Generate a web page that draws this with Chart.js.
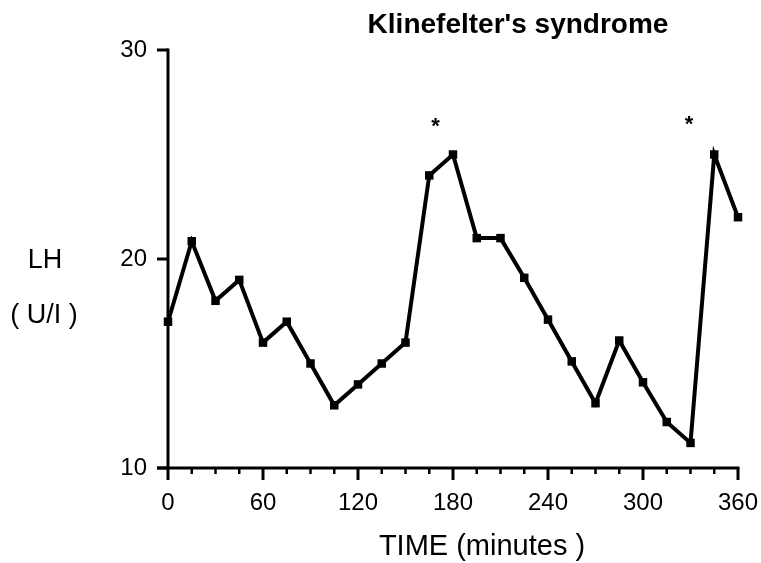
<!DOCTYPE html>
<html>
<head>
<meta charset="utf-8">
<script src="https://cdn.jsdelivr.net/npm/chart.js@4.4.1/dist/chart.umd.min.js"></script>
<style>
  html, body { margin: 0; padding: 0; background: #fff; }
  #wrap { width: 761px; height: 563px; }
</style>
</head>
<body>
<div id="wrap"><canvas id="lh-chart" width="761" height="563"></canvas></div>
<script>
// sampling times (minutes) and LH (U/l)
const times = [0, 15, 30, 45, 60, 75, 90, 105, 120, 135, 150, 165, 180,
               195, 210, 225, 240, 255, 270, 285, 300, 315, 330, 345, 360];
const lhLevels = [17, 20.85, 18, 19, 16, 17, 15, 13, 14, 15, 16, 24, 25,
                  21, 21, 19.1, 17.1, 15.1, 13.1, 16.1, 14.1, 12.2, 11.2, 25, 22];

// pulses marked with an asterisk
const pulseTimes = [169, 329];
const pulseMarks = [26.5, 26.6];

// axis ticks
const xMajorTicks = [0, 60, 120, 180, 240, 300, 360];
const xMinorTicks = [15, 30, 45, 75, 90, 105, 135, 150, 165, 195, 210, 225, 255, 270, 285, 315, 330, 345];
const yTicks = [10, 20, 30];

const ink = '#000';
const sans = '"Liberation Sans", Arial, sans-serif';

// draws the axes by hand: long/short ticks, x line sticking out to the left
const axesAndText = {
  id: 'axesAndText',
  afterDraw(chart) {
    const ctx = chart.ctx;
    const x = chart.scales.x;
    const y = chart.scales.y;
    const left = x.getPixelForValue(0);
    const bottom = y.getPixelForValue(10);
    const top = y.getPixelForValue(30);

    ctx.save();
    ctx.strokeStyle = ink;
    ctx.lineCap = 'butt';

    // y axis
    ctx.lineWidth = 3;
    ctx.beginPath();
    ctx.moveTo(left, top - 1.5);
    ctx.lineTo(left, bottom);
    ctx.stroke();
    yTicks.forEach(v => {
      const py = y.getPixelForValue(v);
      ctx.beginPath();
      ctx.moveTo(left - 11, py);
      ctx.lineTo(left, py);
      ctx.stroke();
    });

    // x axis
    ctx.beginPath();
    ctx.moveTo(left - 11, bottom);
    ctx.lineTo(x.getPixelForValue(360) + 1.5, bottom);
    ctx.stroke();
    xMajorTicks.forEach(v => {
      const px = x.getPixelForValue(v);
      ctx.beginPath();
      ctx.moveTo(px, bottom);
      ctx.lineTo(px, bottom + 12);
      ctx.stroke();
    });
    ctx.lineWidth = 2.5;
    xMinorTicks.forEach(v => {
      const px = x.getPixelForValue(v);
      ctx.beginPath();
      ctx.moveTo(px, bottom);
      ctx.lineTo(px, bottom + 6);
      ctx.stroke();
    });

    // asterisks
    ctx.fillStyle = ink;
    ctx.textAlign = 'center';
    ctx.textBaseline = 'middle';
    ctx.font = 'bold 22px ' + sans;
    pulseTimes.forEach((t, i) => {
      ctx.fillText('*', x.getPixelForValue(t), y.getPixelForValue(pulseMarks[i]) + 4);
    });

    // texts
    ctx.textBaseline = 'alphabetic';
    ctx.font = 'bold 28px ' + sans;
    ctx.fillText("Klinefelter's syndrome", 518, 33);

    ctx.font = '27px ' + sans;
    ctx.fillText('LH', 45, 268);
    ctx.fillText('( U/I )', 44, 323);

    ctx.font = '29px ' + sans;
    ctx.fillText('TIME (minutes )', 482, 555);
    ctx.restore();
  }
};

const ctx = document.getElementById('lh-chart').getContext('2d');
const chart = new Chart(ctx, {
  type: 'line',
  data: {
    datasets: [{
      label: 'LH',
      data: times.map((t, i) => ({ x: t, y: lhLevels[i] })),
      borderColor: ink,
      backgroundColor: ink,
      borderWidth: 4,
      tension: 0,
      pointStyle: 'rect',
      pointRadius: 6,
      pointBorderWidth: 0,
      clip: false
    }]
  },
  options: {
    responsive: false,
    animation: false,
    layout: {
      padding: { top: 50, right: 23, left: 0, bottom: 0 }
    },
    scales: {
      x: {
        type: 'linear',
        min: 0,
        max: 360,
        grid: { display: false },
        border: { display: false },
        afterFit: s => {
          s.height = 95;
          // let the last label hang over the edge instead of shrinking the plot
          s.paddingLeft = 0;
          s.paddingRight = 0;
        },
        ticks: {
          stepSize: 60,
          padding: 13,
          color: ink,
          maxRotation: 0,
          font: { family: sans, size: 24 }
        }
      },
      y: {
        min: 10,
        max: 30,
        grid: { display: false },
        border: { display: false },
        afterFit: s => { s.width = 168; },
        ticks: {
          stepSize: 10,
          padding: 13,
          color: ink,
          font: { family: sans, size: 24 }
        }
      }
    },
    plugins: {
      legend: { display: false },
      tooltip: { enabled: false }
    }
  },
  plugins: [axesAndText]
});
</script>
</body>
</html>
